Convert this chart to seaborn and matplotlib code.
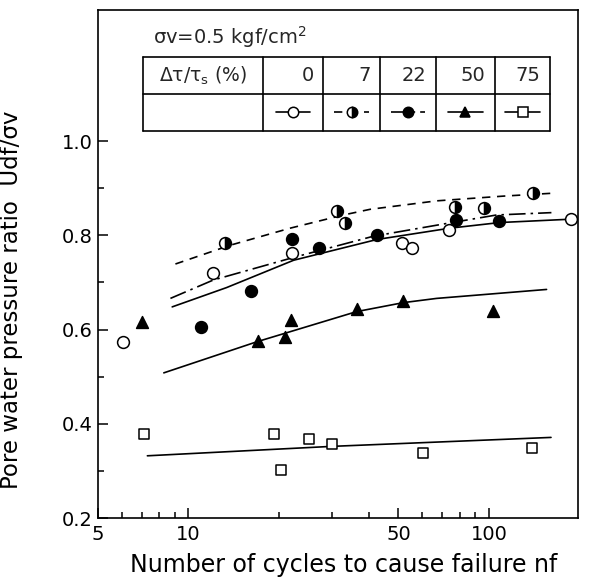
import matplotlib
matplotlib.use("Agg")
import matplotlib.pyplot as plt
import pandas as pd
import seaborn as sns
from matplotlib.ticker import FixedLocator, FixedFormatter, NullFormatter

sns.set_theme(style="ticks")
plt.rcParams['font.family'] = ['DejaVu Sans']

# measured points (nf, Udf/sigma_v) per shear stress ratio
n_0 = [6.05, 12.1, 22.1, 51.3, 55.4, 73.8, 188]
u_0 = [0.574, 0.719, 0.762, 0.784, 0.774, 0.811, 0.834]
n_7 = [13.2, 31.2, 33.2, 77.4, 96.3, 140]
u_7 = [0.783, 0.852, 0.825, 0.861, 0.857, 0.890]
n_22 = [11.0, 16.1, 22.2, 27.2, 42.4, 78.0, 108]
u_22 = [0.606, 0.682, 0.791, 0.774, 0.800, 0.832, 0.831]
n_50 = [7.02, 17.0, 21.0, 22.0, 36.3, 51.9, 103]
u_50 = [0.616, 0.575, 0.585, 0.620, 0.643, 0.660, 0.640]
n_75 = [7.14, 19.3, 20.4, 25.1, 30.1, 60.4, 139]
u_75 = [0.378, 0.378, 0.301, 0.367, 0.358, 0.338, 0.349]

# trend curves
cn_0 = [8.83, 13.4, 22.4, 42.4, 74.1, 108.8, 186]
cu_0 = [0.648, 0.689, 0.747, 0.791, 0.815, 0.827, 0.834]
cn_7 = [9.05, 13.8, 21.8, 32.8, 40.2, 67.0, 111.5, 161]
cu_7 = [0.739, 0.779, 0.815, 0.843, 0.855, 0.873, 0.883, 0.889]
cn_22 = [8.71, 12.1, 22.4, 41.3, 72.3, 106, 161.5]
cu_22 = [0.666, 0.705, 0.753, 0.798, 0.825, 0.843, 0.848]
cn_50 = [8.28, 16.9, 36.3, 51.9, 67.0, 155.6]
cu_50 = [0.508, 0.574, 0.638, 0.657, 0.666, 0.685]
cn_75 = [7.3, 30.0, 161]
cu_75 = [0.332, 0.352, 0.371]

ratios = ["0", "7", "22", "50", "75"]
x_ticks = [5, 10, 50, 100]
x_minor = [6, 7, 8, 9, 20, 30, 40, 60, 70, 80, 90]
y_ticks = [0.2, 0.4, 0.6, 0.8, 1.0]
y_minor = [0.3, 0.5, 0.7, 0.9]

dash_7 = (5, 4)
dash_22 = (10, 3, 1.5, 3)

fig = plt.figure(figsize=(5.94, 5.80), dpi=100)
ax = fig.add_axes([98 / 594, 1 - 518 / 580, 480 / 594, 508 / 580])
ax.set_xscale("log")

lw = 1.2
curves = [(cn_0, cu_0, "-"), (cn_7, cu_7, dash_7), (cn_22, cu_22, dash_22),
          (cn_50, cu_50, "-"), (cn_75, cu_75, "-")]
for cx, cy, ls in curves:
    df = pd.DataFrame({"n": cx, "u": cy})
    sns.lineplot(data=df, x="n", y="u", ax=ax, color="black", lw=lw,
                 sort=False, estimator=None)
    line = ax.lines[-1]
    if ls == "-":
        line.set_linestyle("-")
    else:
        line.set_dashes(ls)

ms = 8.5
pt = dict(ax=ax, s=ms ** 2, edgecolor="black", linewidth=1.1, zorder=5)
sns.scatterplot(x=n_0, y=u_0, marker="o", color="white", **pt)
sns.scatterplot(x=n_22, y=u_22, marker="o", color="black", **pt)
sns.scatterplot(x=n_50, y=u_50, marker="^", color="black", **pt)
sns.scatterplot(x=n_75, y=u_75, marker="s", color="white",
                **{**pt, "s": (ms - 1) ** 2})
ax.plot(n_7, u_7, ls="none", marker="o", ms=ms, fillstyle="right",
        mfc="black", mfcalt="white", mec="black", mew=1.1, zorder=6)

ax.set_xlim(5, 198)
ax.set_ylim(0.2, 1.278)
ax.xaxis.set_major_locator(FixedLocator(x_ticks))
ax.xaxis.set_major_formatter(FixedFormatter([str(v) for v in x_ticks]))
ax.xaxis.set_minor_locator(FixedLocator(x_minor))
ax.xaxis.set_minor_formatter(NullFormatter())
ax.yaxis.set_major_locator(FixedLocator(y_ticks))
ax.yaxis.set_major_formatter(FixedFormatter([f"{v:.1f}" for v in y_ticks]))
ax.yaxis.set_minor_locator(FixedLocator(y_minor))
ax.tick_params(which="both", direction="in", width=1.1, color="black",
               labelsize=14, labelcolor="black")
ax.tick_params(which="major", length=7)
ax.tick_params(which="minor", length=4)
ax.tick_params(axis="y", pad=4)
ax.tick_params(axis="x", pad=5)
for sp in ax.spines.values():
    sp.set_visible(True)
    sp.set_color("black")
    sp.set_linewidth(1.2)

ax.set_xlabel("Number of cycles to cause failure nf", fontsize=17, color="black")
ax.xaxis.set_label_coords((130 - 98) / 480, -0.068)
ax.xaxis.label.set_ha("left")
ax.set_ylabel("Pore water pressure ratio  Udf/σv", fontsize=16.5, color="black")
ax.yaxis.set_label_coords((23 - 98) / 480, 0.43)

# legend table in the upper part of the frame
T = ax.transAxes
col_x = [0.094, 0.344, 0.469, 0.588, 0.704, 0.827, 0.942]
row_y = [0.907, 0.835, 0.762]
for yy in row_y:
    ax.plot([col_x[0], col_x[-1]], [yy, yy], transform=T, color="black", lw=1.2, clip_on=False)
for xx in col_x:
    ax.plot([xx, xx], [row_y[-1], row_y[0]], transform=T, color="black", lw=1.2, clip_on=False)

ax.text(0.115, 0.947, "σv=0.5 kgf/cm$^2$", transform=T, fontsize=14, va="center", ha="left")
ax.text((col_x[0] + col_x[1]) / 2, (row_y[0] + row_y[1]) / 2, "Δτ/τ$_\\mathregular{s}$ (%)",
        transform=T, fontsize=13.5, va="center", ha="center")
for i, r in enumerate(ratios):
    ax.text(col_x[i + 2] - 0.02, (row_y[0] + row_y[1]) / 2, r, transform=T,
            fontsize=14, va="center", ha="right")

sym_y = (row_y[1] + row_y[2]) / 2
styles = [
    dict(marker="o", mfc="white", ls="-"),
    dict(marker="o", mfc="black", mfcalt="white", fillstyle="right", dashes=dash_7),
    dict(marker="o", mfc="black", dashes=dash_22),
    dict(marker="^", mfc="black", ls="-"),
    dict(marker="s", mfc="white", ls="-", ms=ms - 1.5),
]
for i, st in enumerate(styles):
    cx = (col_x[i + 1] + col_x[i + 2]) / 2
    kw = dict(color="black", lw=lw, mec="black", mew=1.1, ms=ms - 1)
    kw.update(st)
    ax.plot([cx - 0.036, cx, cx + 0.036], [sym_y] * 3, transform=T,
            markevery=[1], clip_on=False, **kw)

fig.savefig("out.png", dpi=100, facecolor="white")
